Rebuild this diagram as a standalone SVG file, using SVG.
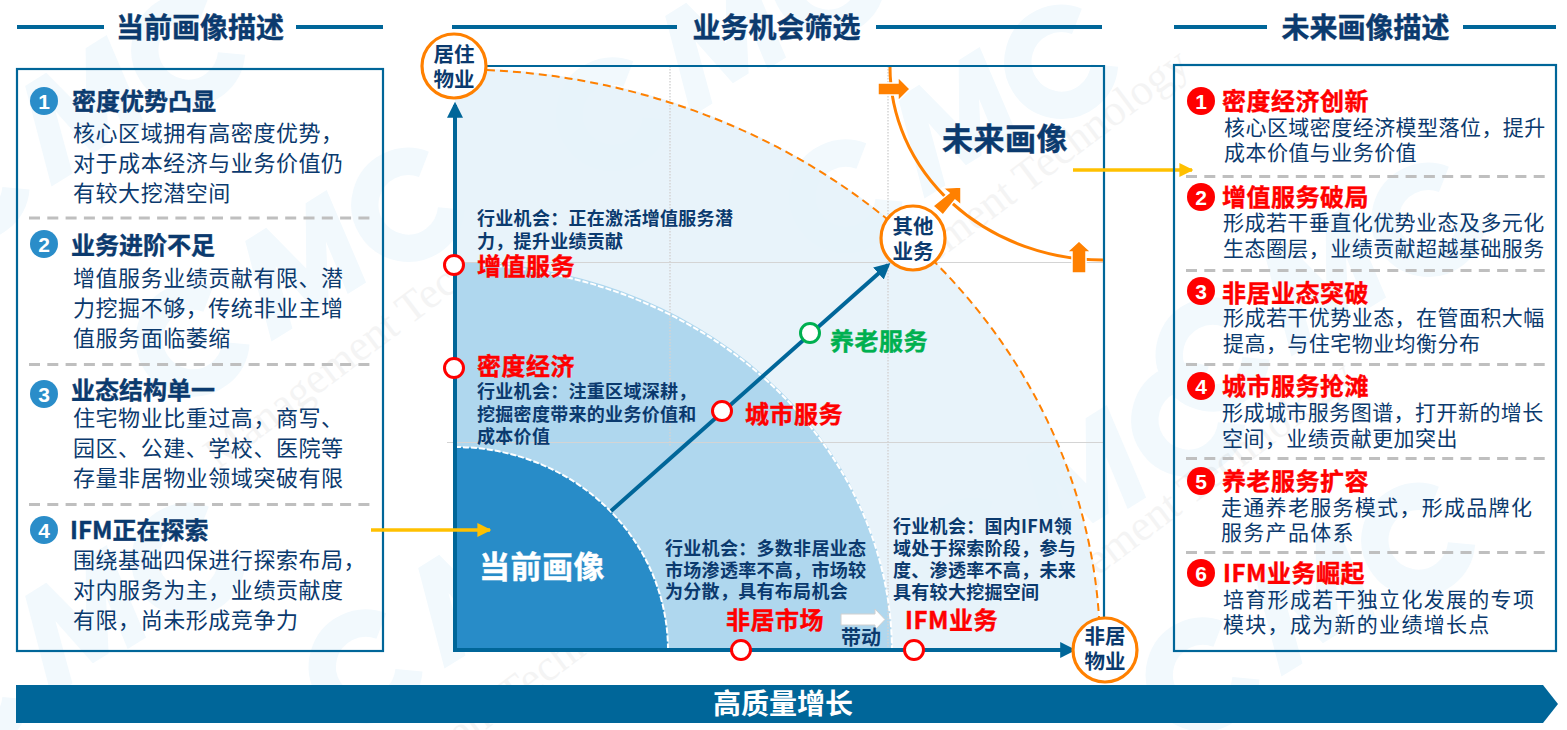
<svg xmlns="http://www.w3.org/2000/svg" width="1567" height="730" viewBox="0 0 1567 730">
<style>
text{font-family:"Noto Sans CJK SC","Noto Sans",sans-serif;fill:#0b3a6e}
.title{font-size:28px;font-weight:700;text-anchor:middle;stroke:#0b3a6e;stroke-width:.4px}
.tl{stroke:#006699;stroke-width:4}
.box{fill:none;stroke:#006699;stroke-width:2.2}
.sep{stroke:#bfbfbf;stroke-width:3;stroke-dasharray:11 7.3}
.h{font-size:24px;font-weight:700;stroke:#0b3a6e;stroke-width:.4px}
.hr{font-size:24px;font-weight:700;fill:#f00;letter-spacing:.5px;stroke:#f00;stroke-width:.4px}
.b{font-size:22px;letter-spacing:.55px}
.br{font-size:21px;letter-spacing:.45px}
.bw{font-size:21px;letter-spacing:1.3px}
.c{font-size:18px;font-weight:700;letter-spacing:.3px}
.red{font-size:24px;font-weight:700;fill:#f00;letter-spacing:.5px;stroke:#f00;stroke-width:.4px}
.grn{font-size:24px;font-weight:700;fill:#00b050;letter-spacing:.5px;stroke:#00b050;stroke-width:.4px}
.big{font-size:31px;font-weight:700;letter-spacing:.5px;stroke:#0b3a6e;stroke-width:.4px}
.ring{fill:#fff;stroke:#ff8000;stroke-width:3.2}
.rt{font-size:20.5px;font-weight:700;text-anchor:middle}
.dot{fill:#fff;stroke:#f00;stroke-width:3}
.nb{fill:#fff;font-size:21px;font-weight:700;text-anchor:middle;font-family:"Liberation Sans",sans-serif}
.bl{fill:#2a8dc9}
.rd{fill:#f00}
.gl{stroke:#d4d4d4;stroke-width:1;fill:none}
.gd{stroke:#d4d4d4;stroke-width:1.5;stroke-dasharray:1.5 1.5;fill:none}
.wt{font-family:"Liberation Serif",serif;font-size:44px;fill:#000;opacity:.04}
.wm{fill:#f2f9fd}
.wc{fill:none;stroke:#f2f9fd;stroke-width:44}
</style>
<defs>
<marker id="ah" viewBox="0 0 10 10" refX="8" refY="5" markerWidth="4" markerHeight="4" orient="auto"><path d="M0 0L10 5L0 10z" fill="#006699"/></marker>
<marker id="ay" viewBox="0 0 10 10" refX="9" refY="5" markerWidth="4" markerHeight="4" orient="auto"><path d="M0 0L10 5L0 10z" fill="#ffc000"/></marker>
<g id="logo">
<path class="wc" d="M-110 -42A70 70 0 1 0 -110 42"/>
<path class="wm" d="M-60 70L-10 -90L30 -90L50 0L105 -90L145 -90L120 70L85 70L100 -20L55 60L25 60L10 -30L-20 70z"/>
<path class="wc" d="M300 -42A70 70 0 1 0 300 42"/>
</g>
</defs>
<rect width="1567" height="730" fill="#fff"/>
<g id="watermark">
<use href="#logo" transform="translate(280,285) rotate(-32) scale(.62)"/>
<use href="#logo" transform="translate(453,612) rotate(-32) scale(.62)"/>
<use href="#logo" transform="translate(933,142) rotate(-32) scale(.62)"/>
<use href="#logo" transform="translate(1300,300) rotate(-32) scale(.62)"/>
<use href="#logo" transform="translate(1290,620) rotate(-32) scale(.62)"/>
<use href="#logo" transform="translate(60,640) rotate(-32) scale(.62)"/>
<use href="#logo" transform="translate(1060,500) rotate(-32) scale(.62)"/>
<use href="#logo" transform="translate(700,60) rotate(-32) scale(.62)"/>
<use href="#logo" transform="translate(60,130) rotate(-32) scale(.62)"/>
<text class="wt" transform="translate(218,470) rotate(-37)">Management Technology</text>
<text class="wt" transform="translate(835,338) rotate(-37)">Management Technology</text>
<text class="wt" transform="translate(1000,650) rotate(-37)">Management Technology</text>
<text class="wt" transform="translate(320,855) rotate(-37)">Management Technology</text>
</g>
<g id="header-left">
<path class="tl" d="M17 27H104M296 27H383"/>
<text class="title" x="200" y="38">当前画像描述</text>
</g>
<g id="header-mid">
<path class="tl" d="M452 27H677M876 27H1102"/>
<text class="title" x="776.500" y="38">业务机会筛选</text>
</g>
<g id="header-right">
<path class="tl" d="M1174 27H1267M1463 27H1556"/>
<text class="title" x="1365.500" y="38">未来画像描述</text>
</g>
<g id="panel-left">
<rect class="box" x="17" y="69" width="366" height="582"/>
<path class="sep" d="M29 218H371M29 364.500H371M29 504.500H371"/>
<g id="left-1"><circle class="bl" cx="44" cy="101" r="14"/><text class="nb" x="44" y="109">1</text>
<text class="h" x="72" y="110">密度优势凸显</text>
<text class="b" x="73" y="141">核心区域拥有高密度优势，</text><text class="b" x="73" y="171">对于成本经济与业务价值仍</text><text class="b" x="73" y="201">有较大挖潜空间</text></g>
<g id="left-2"><circle class="bl" cx="44" cy="244" r="14"/><text class="nb" x="44" y="252">2</text>
<text class="h" x="71" y="254">业务进阶不足</text>
<text class="b" x="73" y="286">增值服务业绩贡献有限、潜</text><text class="b" x="73" y="316">力挖掘不够，传统非业主增</text><text class="b" x="73" y="346">值服务面临萎缩</text></g>
<g id="left-3"><circle class="bl" cx="44" cy="394" r="14"/><text class="nb" x="44" y="402">3</text>
<text class="h" x="71" y="399">业态结构单一</text>
<text class="b" x="73" y="426">住宅物业比重过高，商写、</text><text class="b" x="73" y="456">园区、公建、学校、医院等</text><text class="b" x="73" y="486">存量非居物业领域突破有限</text></g>
<g id="left-4"><circle class="bl" cx="44" cy="530" r="14"/><text class="nb" x="44" y="538">4</text>
<text class="h" x="70" y="539">IFM正在探索</text>
<text class="b" x="73" y="568">围绕基础四保进行探索布局，</text><text class="b" x="73" y="598">对内服务为主，业绩贡献度</text><text class="b" x="73" y="628">有限，尚未形成竞争力</text></g>
</g>
<g id="chart">
<path d="M455 650V68A645 582 0 0 1 1100 650Z" fill="#e6f2fa" fill-opacity=".92"/>
<path d="M455 650V262A437 388 0 0 1 892 650Z" fill="#afd7ee"/>
<path d="M455 650V447A213 203 0 0 1 668 650Z" fill="#288cc8"/>
<path class="gd" d="M670 66V447M888 66V650"/>
<path class="gl" d="M455 262.500H1104M447 442.500H1104"/>
<path d="M487 70A645 582 0 0 1 1100 640" fill="none" stroke="#ff8000" stroke-width="2" stroke-dasharray="8 5"/>
<path d="M480 265A437 388 0 0 1 892 650" fill="none" stroke="#fff" stroke-width="2" stroke-dasharray="6 2"/>
<path d="M455 447A213 203 0 0 1 668 650" fill="none" stroke="#fff" stroke-width="2" stroke-dasharray="6 2"/>
<path d="M487 66H1104V650" fill="none" stroke="#006699" stroke-width="2.200"/>
<path d="M890 67A213 193 0 0 0 1103 260" fill="none" stroke="#ff8000" stroke-width="3"/>
</g>
<g id="connectors" fill="none">
<path d="M455 652V105" stroke="#006699" stroke-width="4" marker-end="url(#ah)"/>
<path d="M453 650H1073" stroke="#006699" stroke-width="4" marker-end="url(#ah)"/>
<path d="M611 511L888 265" stroke="#006699" stroke-width="4" marker-end="url(#ah)"/>
<path d="M371 530H490" stroke="#ffc000" stroke-width="3.500" marker-end="url(#ay)"/>
<path d="M1073 170H1192" stroke="#ffc000" stroke-width="3.500" marker-end="url(#ay)"/>
</g>
<g id="block-arrows" stroke="#fff" stroke-width="1.500">
<path fill="#ff8000" d="M878 83H898V77L910 89L898 101V95H878Z"/>
<path fill="#ff8000" d="M933 206L949 193L943 188L961 187V205L955 200L943 215Z"/>
<path fill="#ff8000" d="M1072 273V252H1067L1079 241L1091 252H1086V273Z"/>
<path fill="#fff" stroke="#d0d0d0" stroke-width="1" d="M841 614H875V609L885 619.500L875 630V625H841Z"/>
</g>
<g id="chart-labels">
<text class="c" x="477" y="225">行业机会：正在激活增值服务潜</text><text class="c" x="477" y="248">力，提升业绩贡献</text>
<text class="c" x="477" y="398">行业机会：注重区域深耕，</text><text class="c" x="477" y="421">挖掘密度带来的业务价值和</text><text class="c" x="477" y="443">成本价值</text>
<text class="c" x="665" y="555">行业机会：多数非居业态</text><text class="c" x="665" y="577">市场渗透率不高，市场较</text><text class="c" x="665" y="598">为分散，具有布局机会</text>
<text class="c" x="893" y="533">行业机会：国内IFM领</text><text class="c" x="893" y="555">域处于探索阶段，参与</text><text class="c" x="893" y="577">度、渗透率不高，未来</text><text class="c" x="893" y="599">具有较大挖掘空间</text>
<text class="red" x="477" y="275">增值服务</text>
<text class="red" x="477" y="375">密度经济</text>
<text class="red" x="745" y="423">城市服务</text>
<text class="grn" x="830" y="350">养老服务</text>
<text class="red" x="726" y="629">非居市场</text>
<text class="red" x="905" y="629">IFM业务</text>
<text x="841" y="645" style="font-size:20px;font-weight:700">带动</text>
<text class="big" x="942" y="150">未来画像</text>
<text class="big" x="479" y="578" style="fill:#fff;stroke:#fff">当前画像</text>
</g>
<g id="milestones">
<circle class="dot" cx="454" cy="265" r="9.500"/>
<circle class="dot" cx="454" cy="368" r="9.500"/>
<circle class="dot" cx="722" cy="411" r="9.500"/>
<circle class="dot" cx="741" cy="650" r="9.500"/>
<circle class="dot" cx="914" cy="650" r="9.500"/>
<circle class="dot" cx="810" cy="333" r="9.500" style="stroke:#00b050"/>
</g>
<g id="node-residential"><circle class="ring" cx="454" cy="66" r="32"/><text class="rt" x="454" y="62">居住</text><text class="rt" x="454" y="87">物业</text></g>
<g id="node-other"><circle class="ring" cx="913" cy="238" r="32"/><text class="rt" x="913" y="234">其他</text><text class="rt" x="913" y="259">业务</text></g>
<g id="node-nonres"><circle class="ring" cx="1105" cy="650" r="32"/><text class="rt" x="1105" y="644">非居</text><text class="rt" x="1105" y="669">物业</text></g>
<g id="panel-right">
<rect class="box" x="1174" y="65" width="382" height="586"/>
<path class="sep" d="M1186 176.500H1545M1186 270.500H1545M1186 364.500H1545M1186 458.500H1545M1186 552.500H1545"/>
<g id="right-1"><circle class="rd" cx="1201" cy="101" r="14"/><text class="nb" x="1201" y="109">1</text><text class="hr" x="1222" y="110">密度经济创新</text>
<text class="br" x="1224" y="135">核心区域密度经济模型落位，提升</text><text class="br" x="1224" y="160">成本价值与业务价值</text></g>
<g id="right-2"><circle class="rd" cx="1201" cy="197" r="14"/><text class="nb" x="1201" y="205">2</text><text class="hr" x="1222" y="206">增值服务破局</text>
<text class="br" x="1223" y="230">形成若干垂直化优势业态及多元化</text><text class="br" x="1223" y="256">生态圈层，业绩贡献超越基础服务</text></g>
<g id="right-3"><circle class="rd" cx="1201" cy="291" r="14"/><text class="nb" x="1201" y="299">3</text><text class="hr" x="1222" y="302">非居业态突破</text>
<text class="br" x="1223" y="325">形成若干优势业态，在管面积大幅</text><text class="br" x="1223" y="351">提高，与住宅物业均衡分布</text></g>
<g id="right-4"><circle class="rd" cx="1201" cy="386" r="14"/><text class="nb" x="1201" y="394">4</text><text class="hr" x="1222" y="395">城市服务抢滩</text>
<text class="br" x="1222" y="420">形成城市服务图谱，打开新的增长</text><text class="br" x="1222" y="446">空间，业绩贡献更加突出</text></g>
<g id="right-5"><circle class="rd" cx="1201" cy="481" r="14"/><text class="nb" x="1201" y="489">5</text><text class="hr" x="1222" y="490">养老服务扩容</text>
<text class="bw" x="1221" y="515">走通养老服务模式，形成品牌化</text><text class="bw" x="1221" y="540">服务产品体系</text></g>
<g id="right-6"><circle class="rd" cx="1201" cy="573" r="14"/><text class="nb" x="1201" y="581">6</text><text class="hr" x="1223" y="582">IFM业务崛起</text>
<text class="bw" x="1223" y="607">培育形成若干独立化发展的专项</text><text class="bw" x="1223" y="632">模块，成为新的业绩增长点</text></g>
</g>
<g id="growth-bar">
<path d="M16 685H1543L1558 704L1543 723H16Z" fill="#006699"/>
<text x="783" y="714" style="font-size:28px;font-weight:700;fill:#fff;text-anchor:middle">高质量增长</text>
</g>
</svg>
